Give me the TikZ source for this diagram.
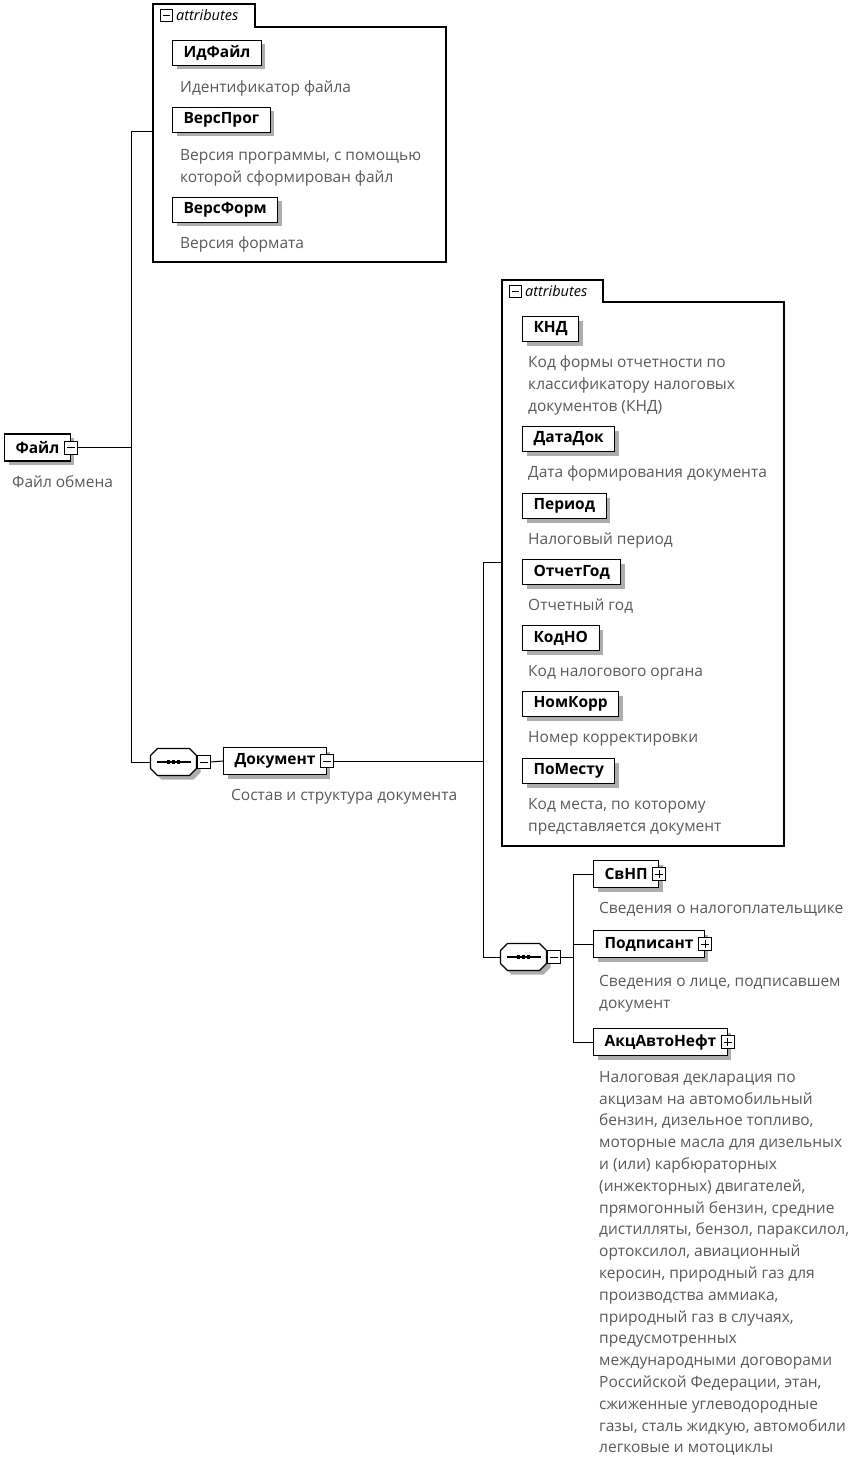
\documentclass[tikz,border=0pt]{standalone}
\usepackage{fontspec}
\setmainfont{Open Sans}
\usetikzlibrary{shadows,calc}
\newcommand\seqshape{%
  \fill[black!32] (-12,-9.5) -- (20,-9.5) -- (27,-2.5) -- (27,10.5) -- (20,17.5) -- (-12,17.5) -- (-19,10.5) -- (-19,-2.5) -- cycle;
  \draw[boxline, fill=white] (-16,-13.5) -- (16,-13.5) -- (23,-6.5) -- (23,6.5) -- (16,13.5) -- (-16,13.5) -- (-23,6.5) -- (-23,-6.5) -- cycle;
  \draw[line width=1.1pt] (-17,0) -- (17,0);
  \foreach \d in {-5,0,5} \fill (\d-1.7,-1.7) rectangle (\d+1.7,1.7);
}
\begin{document}
\begin{tikzpicture}[x=1pt,y=-1pt,
  boxline/.style={line width=1.1pt},
  shadowed/.style={drop shadow={shadow xshift=4pt, shadow yshift=-4pt, fill=black!32, opacity=1}},
  elem/.style={draw, boxline, fill=white, font=\bfseries\fontsize{15.5}{18}\selectfont, minimum height=27pt, inner xsep=11pt, inner ysep=0pt, anchor=west, shadowed},
  attr/.style={elem, minimum height=25pt},
  capt/.style={anchor=north west, text=black!65, font=\fontsize{15.5}{21.8}\selectfont, inner sep=0pt, align=left},
  conn/.style={line width=1pt},
  minussym/.style={draw, fill=white, minimum size=13pt, inner sep=0pt, line width=0.8pt,
    path picture={\draw[line width=0.9pt] ([xshift=2.5pt]path picture bounding box.west) -- ([xshift=-2.5pt]path picture bounding box.east);}},
  plussym/.style={draw, fill=white, minimum size=13pt, inner sep=0pt, line width=0.8pt,
    path picture={\draw[line width=0.9pt] ([xshift=2.5pt]path picture bounding box.west) -- ([xshift=-2.5pt]path picture bounding box.east);
      \draw[line width=0.9pt] ([yshift=-2.5pt]path picture bounding box.north) -- ([yshift=2.5pt]path picture bounding box.south);}},
  tabminus/.style={minussym, minimum size=11.5pt},
  tabtext/.style={anchor=west, font=\itshape\fontsize{14.5}{16}\selectfont, inner sep=0pt},
  seqn/.style={minimum width=46pt, minimum height=27pt, inner sep=0pt}
]
\useasboundingbox (0,0) rectangle (857,1463);

% ---------- root element
\node[elem] (fajl) at (4,447.5) {Файл\hspace{4pt}};
\node[minussym] (fajlm) at (fajl.east) {};
\node[capt] (fajlc) at (12,475) {Файл обмена};

% ---------- attributes group 1
\draw[boxline] (255,27) -- (446,27) -- (446,262) -- (153,262) -- (153,4) -- (255,4) -- cycle;
\coordinate (g1w) at (153,132);
\node[tabminus] (g1m) at (166.5,15.5) {};
\node[tabtext] (g1t) at (176,15.5) {attributes};

\node[attr] (idfajl) at (172,53) {ИдФайл};
\node[capt] (idfajlc) at (180,81) {Идентификатор файла};
\node[attr] (versprog) at (172,120) {ВерсПрог};
\node[capt] (versprogc) at (180,149) {Версия программы, с помощью\\которой сформирован файл};
\node[attr] (versform) at (172,210) {ВерсФорм};
\node[capt] (versformc) at (180,237) {Версия формата};

% ---------- trunk 1
\coordinate (t1top) at (131,132);
\coordinate (t1mid) at (131,447.5);
\coordinate (t1bot) at (131,762);
\draw[conn] (fajlm.east) -- (t1mid);
\draw[conn] (g1w) -- (t1top) -- (t1bot);

% ---------- sequence 1
\node[seqn] (s1) at (173.5,762) {};
\begin{scope}[shift={(s1)}] \seqshape \end{scope}
\node[minussym, anchor=west] (s1m) at (s1.east) {};
\draw[conn] (t1bot) -- (s1.west);

\node[elem] (doc) at (223,761) {Документ\hspace{4pt}};
\node[minussym] (docm) at (doc.east) {};
\node[capt] (docc) at (231,789) {Состав и структура документа};
\draw[conn] (s1m.east) -- (doc.west);

% ---------- trunk 2
\coordinate (t2top) at (483,562);
\coordinate (t2mid) at (483,761);
\coordinate (t2bot) at (483,957);
\draw[conn] (docm.east) -- (t2mid);

% ---------- attributes group 2
\draw[boxline] (603,302) -- (784,302) -- (784,846) -- (502,846) -- (502,280) -- (603,280) -- cycle;
\coordinate (g2w) at (502,562);
\node[tabminus] (g2m) at (515.5,291.5) {};
\node[tabtext] (g2t) at (525,291.5) {attributes};
\draw[conn] (g2w) -- (t2top) -- (t2bot);

\node[attr] (knd) at (522,329) {КНД};
\node[capt] (kndc) at (528,356) {Код формы отчетности по\\классификатору налоговых\\документов (КНД)};
\node[attr] (datadok) at (522,439) {ДатаДок};
\node[capt] (datadokc) at (528,466) {Дата формирования документа};
\node[attr] (period) at (522,506) {Период};
\node[capt] (periodc) at (528,533) {Налоговый период};
\node[attr] (otchgod) at (522,572) {ОтчетГод};
\node[capt] (otchgodc) at (528,599) {Отчетный год};
\node[attr] (kodno) at (522,638) {КодНО};
\node[capt] (kodnoc) at (528,665) {Код налогового органа};
\node[attr] (nomkorr) at (522,704) {НомКорр};
\node[capt] (nomkorrc) at (528,731) {Номер корректировки};
\node[attr] (pomestu) at (522,771) {ПоМесту};
\node[capt] (pomestuc) at (528,798) {Код места, по которому\\представляется документ};

% ---------- sequence 2
\node[seqn] (s2) at (523.5,957) {};
\begin{scope}[shift={(s2)}] \seqshape \end{scope}
\node[minussym, anchor=west] (s2m) at (s2.east) {};
\draw[conn] (t2bot) -- (s2.west);

\coordinate (t3top) at (573,874);
\coordinate (t3mid) at (573,957);
\coordinate (t3sec) at (573,944);
\coordinate (t3bot) at (573,1042);
\draw[conn] (s2m.east) -- (t3mid);

\node[elem] (svnp) at (593,874) {СвНП\hspace{4pt}};
\node[plussym] (svnpp) at (svnp.east) {};
\node[capt] (svnpc) at (599,902) {Сведения о налогоплательщике};

\node[elem] (podp) at (593,944) {Подписант\hspace{4pt}};
\node[plussym] (podpp) at (podp.east) {};
\node[capt] (podpc) at (599,975) {Сведения о лице, подписавшем\\документ};

\node[elem] (akc) at (593,1042) {АкцАвтоНефт\hspace{4pt}};
\node[plussym] (akcp) at (akc.east) {};
\node[capt] (akcc) at (599,1071) {Налоговая декларация по\\акцизам на автомобильный\\бензин, дизельное топливо,\\моторные масла для дизельных\\и (или) карбюраторных\\(инжекторных) двигателей,\\прямогонный бензин, средние\\дистилляты, бензол, параксилол,\\ортоксилол, авиационный\\керосин, природный газ для\\производства аммиака,\\природный газ в случаях,\\предусмотренных\\международными договорами\\Российской Федерации, этан,\\сжиженные углеводородные\\газы, сталь жидкую, автомобили\\легковые и мотоциклы};

\draw[conn] (svnp.west) -- (t3top) -- (t3bot) -- (akc.west);
\draw[conn] (t3sec) -- (podp.west);
\end{tikzpicture}
\end{document}
